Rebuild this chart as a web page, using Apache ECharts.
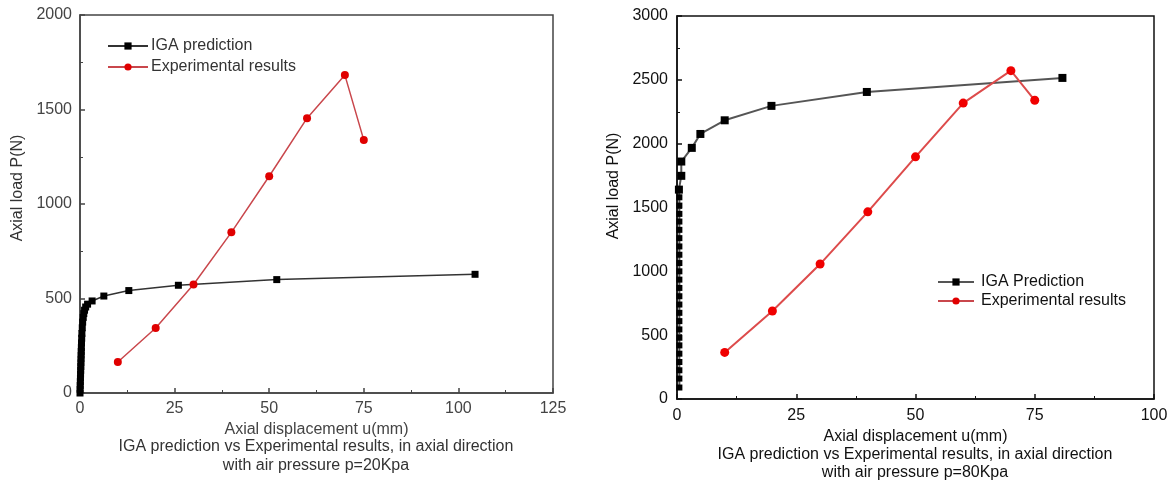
<!DOCTYPE html>
<html>
<head>
<meta charset="utf-8">
<script src="https://cdn.jsdelivr.net/npm/echarts@6/dist/echarts.min.js"></script>
<style>
  html, body { margin: 0; padding: 0; background: #ffffff; }
  #chart { width: 1174px; height: 482px; }
</style>
</head>
<body>
<div id="chart"></div>
<script>
// ---- Left panel: p = 20 kPa ----
const leftIgaU = [0, 0.03, 0.06, 0.09, 0.12, 0.15, 0.18, 0.21, 0.24, 0.27, 0.3, 0.33, 0.36, 0.4, 0.45, 0.5, 0.6, 0.7, 0.85, 1.0, 1.2, 1.5, 2.0, 3.2, 6.3, 12.9, 26.0, 52.0, 104.4];
const leftIgaP = [0, 20, 40, 60, 80, 100, 120, 140, 160, 180, 200, 220, 240, 265, 290, 315, 345, 375, 400, 420, 438, 455, 470, 487, 513, 542, 570, 600, 628];
const leftExpU = [10, 20, 30, 40, 50, 60, 70, 75];
const leftExpP = [164, 344, 574, 850, 1147, 1454, 1682, 1338];

// ---- Right panel: p = 80 kPa ----
const rightIgaU = [0.5, 0.5, 0.5, 0.5, 0.5, 0.5, 0.5, 0.5, 0.5, 0.5, 0.5, 0.5, 0.5, 0.5, 0.5, 0.5, 0.5, 0.5, 0.5, 0.5, 0.5, 0.5, 0.5, 0.5,
                   0.4, 0.9, 0.9, 3.1, 4.9, 10.0, 19.8, 39.8, 80.8];
const rightIgaP = [90, 160, 225, 290, 355, 420, 480, 545, 610, 675, 740, 805, 870, 935, 1000, 1065, 1130, 1195, 1260, 1325, 1390, 1450, 1515, 1580,
                   1640, 1748, 1860, 1967, 2076, 2183, 2296, 2405, 2515];
const rightExpU = [10, 20, 30, 40, 50, 60, 70, 75];
const rightExpP = [365, 689, 1057, 1466, 1897, 2318, 2572, 2340];

// ---- Tick values ----
const leftXTicks = [0, 25, 50, 75, 100, 125];
const rightXTicks = [0, 25, 50, 75, 100];
const leftYTicks = [0, 500, 1000, 1500, 2000];
const rightYTicks = [0, 500, 1000, 1500, 2000, 2500, 3000];

// ---- Texts ----
const xName = 'Axial displacement u(mm)';
const yName = 'Axial load P(N)';
const captionLine1 = 'IGA prediction vs Experimental results, in axial direction';
const leftCaptionLine2 = 'with air pressure p=20Kpa';
const rightCaptionLine2 = 'with air pressure p=80Kpa';
const leftNames = ['IGA prediction', 'Experimental results'];
const rightNames = ['IGA Prediction', 'Experimental results'];

const FONT = '"Liberation Sans", Arial, Helvetica, sans-serif';

function pairs(u, p) { return u.map((v, i) => [v, p[i]]); }

function xAxisFor(grid, ticks, color) {
  const step = ticks[1] - ticks[0];
  return {
    type: 'value', gridIndex: grid,
    min: ticks[0], max: ticks[ticks.length - 1], interval: step,
    name: xName, nameLocation: 'middle',
    nameGap: grid === 0 ? 26 : 27,
    nameTextStyle: { fontFamily: FONT, fontSize: 16, color: color },
    axisLine: { show: true, lineStyle: { color: color, width: 1.5 } },
    axisTick: { show: true, inside: true, length: 5, lineStyle: { color: color, width: 1.5 } },
    minorTick: { show: true, splitNumber: 2, length: 3, lineStyle: { color: color, width: 1 } },
    axisLabel: { fontFamily: FONT, fontSize: 16, color: color, margin: grid === 0 ? 8 : 9,
                 formatter: function (v) { return String(v); } },
    splitLine: { show: false }
  };
}

function yAxisFor(grid, ticks, color) {
  const step = ticks[1] - ticks[0];
  return {
    type: 'value', gridIndex: grid,
    min: ticks[0], max: ticks[ticks.length - 1], interval: step,
    axisLine: { show: true, lineStyle: { color: color, width: 1.5 } },
    axisTick: { show: true, inside: true, length: 5, lineStyle: { color: color, width: 1.5 } },
    minorTick: { show: true, splitNumber: 2, length: 3, lineStyle: { color: color, width: 1 } },
    axisLabel: { fontFamily: FONT, fontSize: 16, color: color, margin: grid === 0 ? 8 : 9,
                 formatter: function (v) { return String(v); } },
    splitLine: { show: false }
  };
}

function caption(text, cx, top, color) {
  return {
    text: text, left: cx, top: top, textAlign: 'center', padding: 0,
    textStyle: { fontFamily: FONT, fontSize: 16, fontWeight: 'normal', color: color }
  };
}

// rotated y-axis title
function yTitle(cx, cy, color) {
  return {
    type: 'text', x: cx, y: cy, rotation: Math.PI / 2,
    style: { text: yName, fontFamily: FONT, fontSize: 16, fill: color, align: 'center', verticalAlign: 'middle' }
  };
}

const chart = echarts.init(document.getElementById('chart'), null, { renderer: 'canvas' });

chart.setOption({
  backgroundColor: '#ffffff',
  animation: false,
  title: [
    caption(captionLine1, 316, 439, '#333'),
    caption(leftCaptionLine2, 316, 458, '#333'),
    caption(captionLine1, 915, 447, '#111'),
    caption(rightCaptionLine2, 915, 465, '#111')
  ],
  graphic: [yTitle(18, 188, '#333'), yTitle(614, 186, '#111')],
  grid: [
    { left: 80, top: 15, width: 473, height: 378, show: true, borderColor: '#444', borderWidth: 1.5, backgroundColor: 'transparent' },
    { left: 677, top: 16, width: 477, height: 383, show: true, borderColor: '#111', borderWidth: 1.5, backgroundColor: 'transparent' }
  ],
  legend: [
    {
      data: leftNames, orient: 'vertical', left: 107, top: 38, padding: 0,
      itemWidth: 40, itemHeight: 9, itemGap: 5,
      textStyle: { fontFamily: FONT, fontSize: 16, color: '#333', padding: [0, 0, 0, -2] }
    },
    {
      data: rightNames, orient: 'vertical', left: 937, top: 274, padding: 0,
      itemWidth: 36, itemHeight: 9, itemGap: 3,
      textStyle: { fontFamily: FONT, fontSize: 16, color: '#111', padding: [0, 0, 0, 2] }
    }
  ],
  xAxis: [xAxisFor(0, leftXTicks, '#444'), xAxisFor(1, rightXTicks, '#111')],
  yAxis: [yAxisFor(0, leftYTicks, '#444'), yAxisFor(1, rightYTicks, '#111')],
  series: [
    {
      name: leftNames[0], type: 'line', xAxisIndex: 0, yAxisIndex: 0,
      data: pairs(leftIgaU, leftIgaP),
      symbol: 'rect', symbolSize: 7,
      lineStyle: { color: '#333', width: 1.5 },
      itemStyle: { color: '#000' }
    },
    {
      name: leftNames[1], type: 'line', xAxisIndex: 0, yAxisIndex: 0,
      data: pairs(leftExpU, leftExpP),
      symbol: 'circle', symbolSize: 8,
      lineStyle: { color: '#c9474c', width: 1.5 },
      itemStyle: { color: '#e00000' }
    },
    {
      name: rightNames[0], type: 'line', xAxisIndex: 1, yAxisIndex: 1,
      data: pairs(rightIgaU, rightIgaP),
      symbol: 'rect',
      symbolSize: function (v) { return v[0] < 0.6 && v[1] < 1600 ? 6 : 8; },
      lineStyle: { color: '#555', width: 2 },
      itemStyle: { color: '#000' }
    },
    {
      name: rightNames[1], type: 'line', xAxisIndex: 1, yAxisIndex: 1,
      data: pairs(rightExpU, rightExpP),
      symbol: 'circle', symbolSize: 9,
      lineStyle: { color: '#dd4b4b', width: 2 },
      itemStyle: { color: '#f00000' }
    }
  ]
});
</script>
</body>
</html>
